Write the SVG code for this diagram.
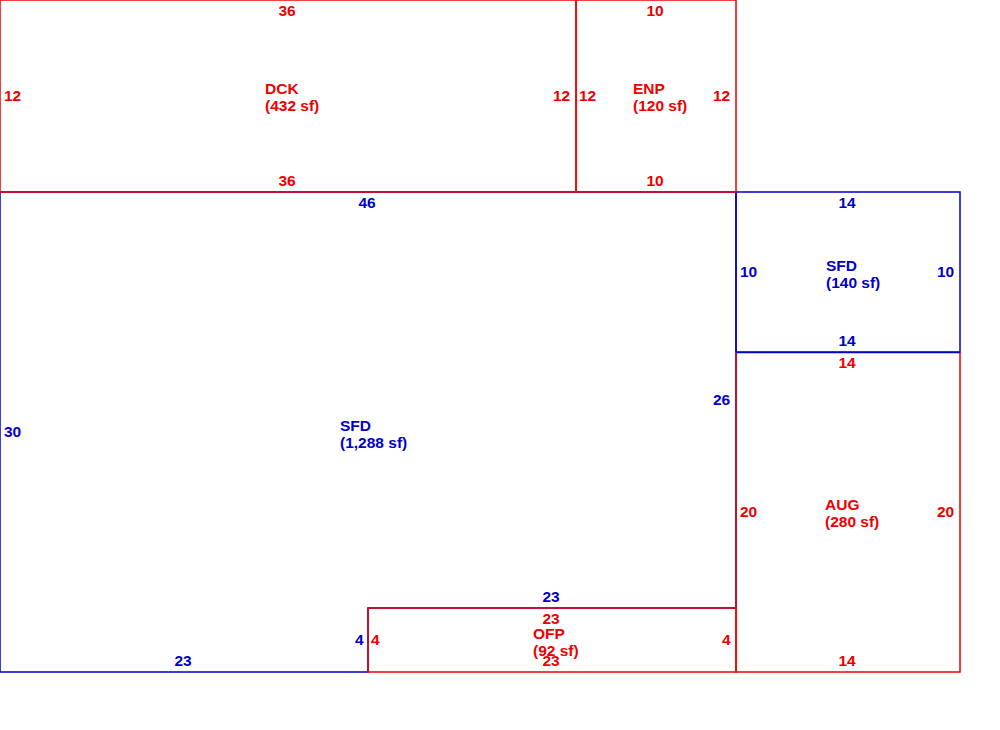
<svg xmlns="http://www.w3.org/2000/svg" width="1000" height="730" viewBox="0 0 1000 730">
<style>
text{font-family:"Liberation Sans",Arial,sans-serif;font-weight:bold;font-size:15.5px}
.b{stroke:#0000cc;fill:none;stroke-width:1.5}
.r{stroke:#ee0000;fill:none;stroke-width:1.5}
.bt{fill:#0000cc}
.rt{fill:#ee0000}
.m{text-anchor:middle}
</style>
<rect width="1000" height="730" fill="#fff"/>
<g id="sfd-main">
<polyline class="b" points="0,192 736,192 736,608 368,608 368,672 0,672 0,192"/>
<text class="bt m" x="367" y="208">46</text>
<text class="bt" x="4" y="437">30</text>
<text class="bt" x="713" y="405">26</text>
<text class="bt m" x="551" y="602">23</text>
<text class="bt" x="355" y="645">4</text>
<text class="bt m" x="183" y="666">23</text>
<text class="bt" x="340" y="431">SFD</text>
<text class="bt" x="340" y="448">(1,288 sf)</text>
</g>
<g id="sfd-small">
<rect class="b" x="736" y="192" width="224" height="160"/>
<text class="bt m" x="847" y="208">14</text>
<text class="bt" x="740" y="277">10</text>
<text class="bt" x="937" y="277">10</text>
<text class="bt m" x="847" y="346">14</text>
<text class="bt" x="826" y="271">SFD</text>
<text class="bt" x="826" y="288">(140 sf)</text>
</g>
<g id="dck">
<rect class="r" x="0" y="0" width="576" height="192"/>
<text class="rt m" x="287" y="16">36</text>
<text class="rt" x="4" y="101">12</text>
<text class="rt" x="553" y="101">12</text>
<text class="rt m" x="287" y="186">36</text>
<text class="rt" x="265" y="94">DCK</text>
<text class="rt" x="265" y="111">(432 sf)</text>
</g>
<g id="enp">
<rect class="r" x="576" y="0" width="160" height="192"/>
<text class="rt m" x="655" y="16">10</text>
<text class="rt" x="579" y="101">12</text>
<text class="rt" x="713" y="101">12</text>
<text class="rt m" x="655" y="186">10</text>
<text class="rt" x="633" y="94">ENP</text>
<text class="rt" x="633" y="111">(120 sf)</text>
</g>
<g id="aug">
<polyline class="r" points="736,352 736,672 960,672 960,352"/>
<line x1="736" y1="352.5" x2="960" y2="352.5" stroke="#0000cc" stroke-width="1.5"/>
<text class="rt m" x="847" y="368">14</text>
<text class="rt" x="740" y="517">20</text>
<text class="rt" x="937" y="517">20</text>
<text class="rt m" x="847" y="666">14</text>
<text class="rt" x="825" y="510">AUG</text>
<text class="rt" x="825" y="527">(280 sf)</text>
</g>
<g id="ofp">
<rect class="r" x="368" y="608" width="368" height="64"/>
<text class="rt m" x="551" y="624">23</text>
<text class="rt" x="371" y="645">4</text>
<text class="rt" x="722" y="645">4</text>
<text class="rt m" x="551" y="666">23</text>
<text class="rt" x="533" y="639">OFP</text>
<text class="rt" x="533" y="656">(92 sf)</text>
</g>
<g id="connectors"/>
</svg>
